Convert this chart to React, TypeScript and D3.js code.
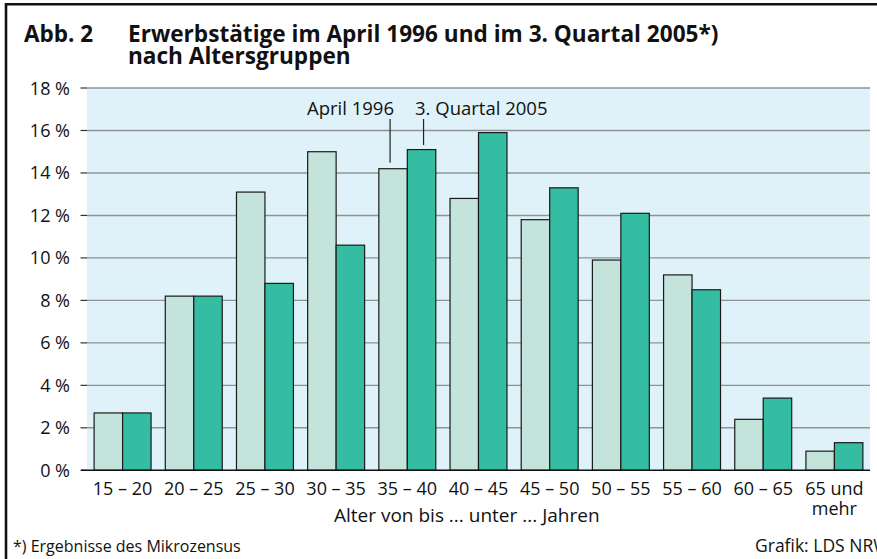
import React from "react";
import * as d3 from "d3";

const categories = ["15 – 20", "20 – 25", "25 – 30", "30 – 35", "35 – 40", "40 – 45", "45 – 50", "50 – 55", "55 – 60", "60 – 65", "65 und|mehr"];
const april1996 = [2.7, 8.2, 13.1, 15.0, 14.2, 12.8, 11.8, 9.9, 9.2, 2.4, 0.9];
const quartal2005 = [2.7, 8.2, 8.8, 10.6, 15.1, 15.9, 13.3, 12.1, 8.5, 3.4, 1.3];
const yTicks = [0, 2, 4, 6, 8, 10, 12, 14, 16, 18];
const seriesNames = ["April 1996", "3. Quartal 2005"];

const W = 877;
const H = 559;
const FONT = "'Open Sans', 'Noto Sans', sans-serif";
const plot = { left: 87, right: 870, top: 88, bottom: 470.3 };

export default function App() {
  const x = d3.scaleBand<string>().domain(categories).range([plot.left, plot.right]).paddingInner(0.2).paddingOuter(0.1);
  const sub = d3.scaleBand<string>().domain(seriesNames).range([0, x.bandwidth()]).padding(0);
  const y = d3.scaleLinear().domain([0, 18]).range([plot.bottom, plot.top]);
  const colors = ["#c4e4db", "#35bda4"];
  const series = [april1996, quartal2005];

  const annCat = categories[4];
  const aprX = (x(annCat) as number) + (sub(seriesNames[0]) as number) + sub.bandwidth() / 2 - 3;
  const qX = (x(annCat) as number) + (sub(seriesNames[1]) as number) + sub.bandwidth() / 2 + 2;

  return (
    <svg width={W} height={H} style={{ position: "absolute", left: 0, top: 0, background: "#fff" }} fontFamily={FONT}>
      {/* frame */}
      <line x1={6} x2={W} y1={4.3} y2={4.3} stroke="#111" strokeWidth={2.6} />
      <line x1={6} x2={6} y1={3} y2={H} stroke="#111" strokeWidth={2.6} />

      {/* title */}
      <text x={24} y={41.7} fontSize={22.5} fontWeight={700} fill="#111">Abb. 2</text>
      <text fontSize={22.6} fontWeight={700} fill="#111">
        <tspan x={128} y={41.7}>Erwerbstätige im April 1996 und im 3. Quartal 2005*)</tspan>
        <tspan x={128} y={63.5}>nach Altersgruppen</tspan>
      </text>

      {/* plot bg */}
      <rect x={plot.left} y={plot.top} width={plot.right - plot.left} height={plot.bottom - plot.top} fill="#e0f2f9" />

      {/* grid + y ticks */}
      {yTicks.map((t) => (
        <g key={t}>
          {t > 0 && <line x1={plot.left} x2={plot.right} y1={y(t)} y2={y(t)} stroke="#8e9396" strokeWidth={1.4} />}
          <line x1={80.5} x2={plot.left} y1={y(t)} y2={y(t)} stroke="#333" strokeWidth={1.2} />
          <text x={70} y={y(t) + 6.5} textAnchor="end" fontSize={18} fill="#111">{`${t} %`}</text>
        </g>
      ))}

      {/* bars */}
      {categories.map((c, i) => (
        <g key={c}>
          {series.map((s, j) => (
            <rect
              key={j}
              x={(x(c) as number) + (sub(seriesNames[j]) as number)}
              y={y(s[i])}
              width={sub.bandwidth()}
              height={plot.bottom - y(s[i])}
              fill={colors[j]}
              stroke="#1a1a1a"
              strokeWidth={1.2}
            />
          ))}
        </g>
      ))}

      {/* baseline */}
      <line x1={plot.left - 6} x2={plot.right} y1={plot.bottom} y2={plot.bottom} stroke="#111" strokeWidth={1.4} />

      {/* x labels */}
      {categories.map((c) => {
        const cx = (x(c) as number) + x.bandwidth() / 2;
        const parts = c.split("|");
        return (
          <text key={c} x={cx} y={495} textAnchor="middle" fontSize={18} fill="#111">
            {parts.map((p, k) => (
              <tspan key={k} x={cx} dy={k === 0 ? 0 : 19.5}>{p}</tspan>
            ))}
          </text>
        );
      })}
      <text x={334} y={521.5} fontSize={19} fill="#111">Alter von bis ... unter ... Jahren</text>

      {/* annotations */}
      <text x={394} y={115} textAnchor="end" fontSize={18.5} fill="#111">{seriesNames[0]}</text>
      <text x={415} y={115} fontSize={18.5} fill="#111">{seriesNames[1]}</text>
      <line x1={aprX} x2={aprX} y1={119} y2={y(april1996[4]) - 6} stroke="#222" strokeWidth={1.2} />
      <line x1={qX} x2={qX} y1={119} y2={y(quartal2005[4]) - 4.5} stroke="#222" strokeWidth={1.2} />

      {/* footer */}
      <text x={13} y={551.5} fontSize={16} fill="#111">*) Ergebnisse des Mikrozensus</text>
      <text x={755} y={551.5} fontSize={17.5} fill="#111">Grafik: LDS NRW</text>
    </svg>
  );
}
